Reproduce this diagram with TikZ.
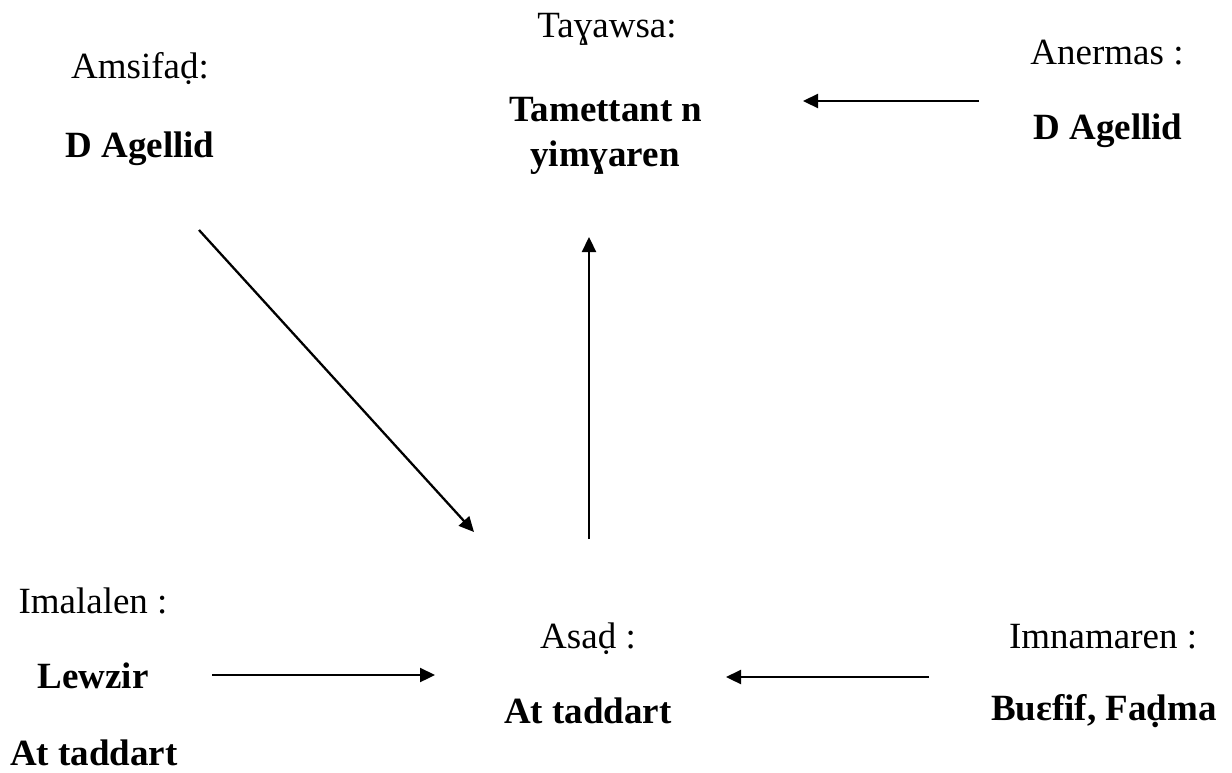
\documentclass[tikz,border=0pt]{standalone}
\usepackage{fontspec}
\setmainfont{Liberation Serif}
\usetikzlibrary{arrows.meta}
\begin{document}
\begin{tikzpicture}[x=1pt,y=-1pt,
  lbl/.style={anchor=base,inner sep=0pt,font=\fontsize{37}{44}\selectfont},
  blbl/.style={anchor=base,inner sep=0pt,font=\fontsize{37}{44}\selectfont\bfseries},
  conn/.style={line width=2.3pt,-{Triangle[length=15pt,width=14pt]}}]
\useasboundingbox[fill=white] (0,0) rectangle (1232,772);
% top left
\node[lbl]  (amsifad)   at (140,78)  {Amsifaḍ:};
\node[blbl] (dagl)      at (140,157) {D Agellid};
% top middle
\node[lbl]  (tayawsa)   at (607,37)  {Taɣawsa:};
\node[blbl] (tamettant) at (606,121) {Tamettant n};
\node[blbl] (yimyaren)  at (605,166) {yimɣaren};
% top right
\node[lbl]  (anermas)   at (1107,64)  {Anermas :};
\node[blbl] (dagr)      at (1108,139) {D Agellid};
% bottom left
\node[lbl]  (imalalen)  at (93,613) {Imalalen :};
\node[blbl] (lewzir)    at (93,688) {Lewzir};
\node[blbl] (attl)      at (94,765) {At taddart};
% bottom middle
\node[lbl]  (asad)      at (588,648) {Asaḍ :};
\node[blbl] (attm)      at (588,723) {At taddart};
% bottom right
\node[lbl]  (imnamaren) at (1103,648) {Imnamaren :};
\node[blbl] (buefif)    at (1104,720) {Buɛfif, Faḍma};
% arrow ends
\coordinate (d1) at (199,230);
\coordinate (d2) at (474,532);
\coordinate (v1) at (589,539);
\coordinate (v2) at (589,237);
\coordinate (t1) at (979,101);
\coordinate (t2) at (803,101);
\coordinate (l1) at (212,675);
\coordinate (l2) at (435,675);
\coordinate (r1) at (929,677);
\coordinate (r2) at (726,677);
\draw[conn] (d1) -- (d2);
\draw[conn] (v1) -- (v2);
\draw[conn] (t1) -- (t2);
\draw[conn] (l1) -- (l2);
\draw[conn] (r1) -- (r2);
\end{tikzpicture}
\end{document}
